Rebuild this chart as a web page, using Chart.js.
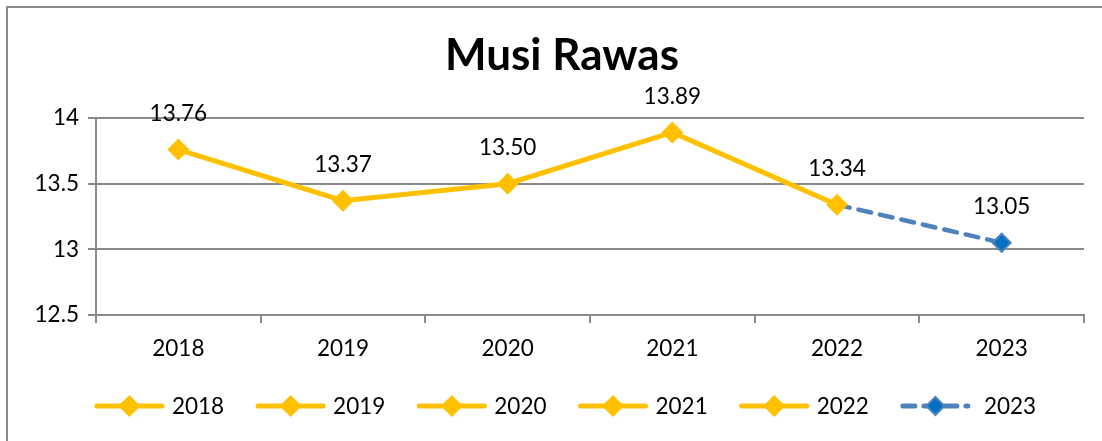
<!DOCTYPE html>
<html>
<head>
<meta charset="utf-8">
<script src="https://cdn.jsdelivr.net/npm/chart.js@4"></script>
<style>
  html, body { margin: 0; padding: 0; background: #fff; overflow: hidden; }
  #box {
    position: absolute; left: 6px; top: 6px;
    width: 1110px; height: 450px;
    border-left: 2px solid #8a8a8a; border-top: 2px solid #8a8a8a;
  }
  #chart { display: block; }
</style>
</head>
<body>
<div id="box"><canvas id="chart" width="1108" height="433"></canvas></div>
<script>
const years = ['2018', '2019', '2020', '2021', '2022', '2023'];
const actual = [13.76, 13.37, 13.50, 13.89, 13.34, null];
const projection = [null, null, null, null, 13.34, 13.05];
const yTicks = [12.5, 13, 13.5, 14];
const titleText = 'Musi Rawas';

const YELLOW = '#FFC000';
const BLUE = '#4F81BD';
const BLUE_DARK = '#0070C0';
const FONT = 'Lato, "Open Sans", sans-serif';
const FS = 22.5;

// title centred on the whole chart box (the plot area sits off-centre)
const boxTitle = {
  id: 'boxTitle',
  afterDraw(chart) {
    const ctx = chart.ctx;
    ctx.save();
    ctx.font = 'bold 44px ' + FONT;
    ctx.fillStyle = '#000';
    ctx.textAlign = 'center';
    ctx.textBaseline = 'middle';
    ctx.fillText(titleText, chart.width / 2, 48);
    ctx.restore();
  }
};

// value labels above points
const valueLabels = {
  id: 'valueLabels',
  afterDatasetsDraw(chart) {
    const ctx = chart.ctx;
    ctx.save();
    ctx.font = FS + 'px ' + FONT;
    ctx.fillStyle = '#000';
    ctx.textAlign = 'center';
    ctx.textBaseline = 'middle';
    const m0 = chart.getDatasetMeta(0);
    actual.forEach((v, i) => {
      if (v == null) return;
      const p = m0.data[i];
      ctx.fillText(v.toFixed(2), p.x, p.y - 36);
    });
    const m1 = chart.getDatasetMeta(1);
    const last = projection.length - 1;
    const p = m1.data[last];
    ctx.fillText(projection[last].toFixed(2), p.x, p.y - 36);
    ctx.restore();
  }
};

function diamond(ctx, x, y, r, fill, stroke) {
  ctx.beginPath();
  ctx.moveTo(x, y - r);
  ctx.lineTo(x + r, y);
  ctx.lineTo(x, y + r);
  ctx.lineTo(x - r, y);
  ctx.closePath();
  ctx.fillStyle = fill;
  ctx.fill();
  if (stroke) { ctx.strokeStyle = stroke; ctx.lineWidth = 2; ctx.stroke(); }
}

// legend: line + diamond marker for every year
const lineLegend = {
  id: 'lineLegend',
  afterDraw(chart) {
    const ctx = chart.ctx;
    ctx.save();
    ctx.font = FS + 'px ' + FONT;
    const lineLen = 71, gapText = 7, gapItem = 31;
    const widths = years.map(y => lineLen + gapText + ctx.measureText(y).width);
    const total = widths.reduce((a, b) => a + b, 0) + gapItem * (years.length - 1);
    let x = chart.width / 2 - total / 2;
    const y = 398;
    years.forEach((yr, i) => {
      const proj = i === years.length - 1;
      ctx.lineCap = 'round';
      ctx.lineWidth = 5;
      ctx.strokeStyle = proj ? BLUE : YELLOW;
      ctx.setLineDash(proj ? [12, 9] : []);
      ctx.beginPath();
      ctx.moveTo(x + 3, y);
      ctx.lineTo(x + lineLen - 3, y);
      ctx.stroke();
      ctx.setLineDash([]);
      if (proj) diamond(ctx, x + lineLen / 2, y, 9, BLUE_DARK, BLUE);
      else diamond(ctx, x + lineLen / 2, y, 11, YELLOW);
      ctx.fillStyle = '#000';
      ctx.textAlign = 'left';
      ctx.textBaseline = 'middle';
      ctx.fillText(yr, x + lineLen + gapText + (proj ? 6 : 0), y + 1);
      x += widths[i] + gapItem;
    });
    ctx.restore();
  }
};

new Chart(document.getElementById('chart').getContext('2d'), {
  type: 'line',
  data: {
    labels: years,
    datasets: [{
      label: 'Musi Rawas',
      data: actual,
      borderColor: YELLOW,
      backgroundColor: YELLOW,
      borderWidth: 5,
      pointStyle: 'rectRot',
      pointRadius: 11,
      pointHoverRadius: 11,
      pointBorderWidth: 0,
      tension: 0,
      order: 0
    }, {
      label: 'Proyeksi',
      data: projection,
      borderColor: BLUE,
      backgroundColor: BLUE_DARK,
      borderWidth: 4.5,
      borderDash: [13, 9],
      borderCapStyle: 'round',
      pointStyle: 'rectRot',
      pointRadius: [0, 0, 0, 0, 0, 9],
      pointBorderColor: BLUE,
      pointBorderWidth: 2,
      tension: 0,
      order: 1
    }]
  },
  options: {
    responsive: false,
    animation: false,
    layout: { padding: { left: 0, right: 32, top: 110, bottom: 80 } },
    plugins: {
      legend: { display: false },
      tooltip: { enabled: false },
      title: { display: false }
    },
    scales: {
      x: {
        offset: true,
        afterFit: s => { s.height = 46; },
        grid: { offset: true, drawOnChartArea: false, tickLength: 8, color: '#8a8a8a', lineWidth: 2 },
        border: { color: '#8a8a8a', width: 2 },
        ticks: { color: '#000', font: { family: FONT, size: FS }, padding: 12 }
      },
      y: {
        min: 12.5,
        max: 14,
        afterFit: s => { s.width = 88; },
        afterBuildTicks: s => { s.ticks = yTicks.map(v => ({ value: v })); },
        grid: { color: '#8a8a8a', lineWidth: 2, tickLength: 8 },
        border: { color: '#8a8a8a', width: 2 },
        ticks: { color: '#000', font: { family: FONT, size: FS }, padding: 9, callback: v => String(v) }
      }
    }
  },
  plugins: [valueLabels, lineLegend, boxTitle]
});
</script>
</body>
</html>
